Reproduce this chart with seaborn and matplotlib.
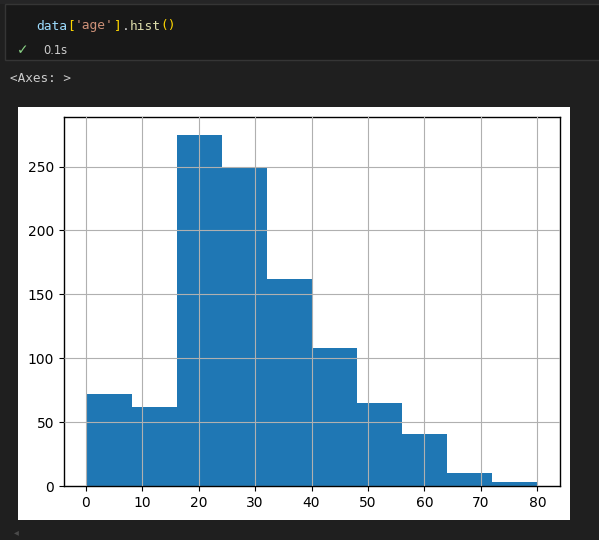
import numpy as np
import matplotlib
matplotlib.use("Agg")
import matplotlib.pyplot as plt
import seaborn as sns
from matplotlib.patches import Rectangle

# histogram of data['age'] : 10 bins, counts
bin_edges = [0.17, 8.15, 16.14, 24.12, 32.10, 40.09, 48.07, 56.05, 64.03, 72.02, 80.0]
counts = [72, 62, 275, 250, 162, 108, 65, 41, 10, 3]

# code cell text (VS Code dark theme colours)
code_parts = [("data", "#9cdcfe"), ("[", "#ffd700"), ("'age'", "#ce9178"),
              ("]", "#ffd700"), (".", "#cccccc"), ("hist", "#dcdcaa"), ("()", "#ffd700")]

W, H = 599, 540
fig = plt.figure(figsize=(W / 100, H / 100), dpi=100)
fig.patch.set_facecolor("#1f1f1f")

# notebook cell box
fig.patches.append(Rectangle((0, 1 - 4 / H), 1, 4 / H, transform=fig.transFigure,
                             facecolor="#252526", edgecolor="none", zorder=-2))
fig.patches.append(Rectangle((5 / W, 1 - 60 / H), 1, 56 / H, transform=fig.transFigure,
                             facecolor="#181818", edgecolor="#353535", linewidth=1, zorder=-2))

# code line
charw = 0.602 * 9.3 * 100 / 72
n = 0
for txt, col in code_parts:
    fig.text((36 + n * charw) / W, 1 - 26 / H, txt, color=col, family="DejaVu Sans Mono",
             fontsize=9.3, va="center", ha="left")
    n += len(txt)
fig.text(17 / W, 1 - 50 / H, "\u2713", color="#89d185", fontsize=10, va="center", family="DejaVu Sans")
fig.text(43 / W, 1 - 51 / H, "0.1s", color="#cccccc", fontsize=8.3, va="center", family="DejaVu Sans")
fig.text(10 / W, 1 - 79 / H, "<Axes: >", color="#cccccc", fontsize=9.2, va="center",
         family="DejaVu Sans Mono")
fig.text(14 / W, 1 - 532 / H, "\u25c2", color="#4a4a4a", fontsize=7, va="center", family="DejaVu Sans")

# white output image background
fig.patches.append(Rectangle((18 / W, 1 - 520 / H), 552 / W, 413 / H, transform=fig.transFigure,
                             facecolor="white", edgecolor="none", zorder=-1))

ax = fig.add_axes([64 / W, 1 - 486 / H, 496 / W, 369 / H])
mids = [(a + b) / 2 for a, b in zip(bin_edges[:-1], bin_edges[1:])]
sns.histplot(x=mids, weights=counts, bins=bin_edges, ax=ax, color="#1f77b4",
             alpha=1, edgecolor="none", linewidth=0)
ax.set_xlim(-3.82, 83.99)
ax.set_ylim(0, 288.75)
ax.set_xticks(range(0, 81, 10))
ax.set_xlabel("")
ax.set_ylabel("")
ax.set_axisbelow(False)
ax.grid(True, color="#b0b0b0", linewidth=0.8)
ax.tick_params(labelsize=10, colors="black")
for s in ax.spines.values():
    s.set_linewidth(1.0)

fig.savefig("out.png", dpi=100, facecolor=fig.get_facecolor())
